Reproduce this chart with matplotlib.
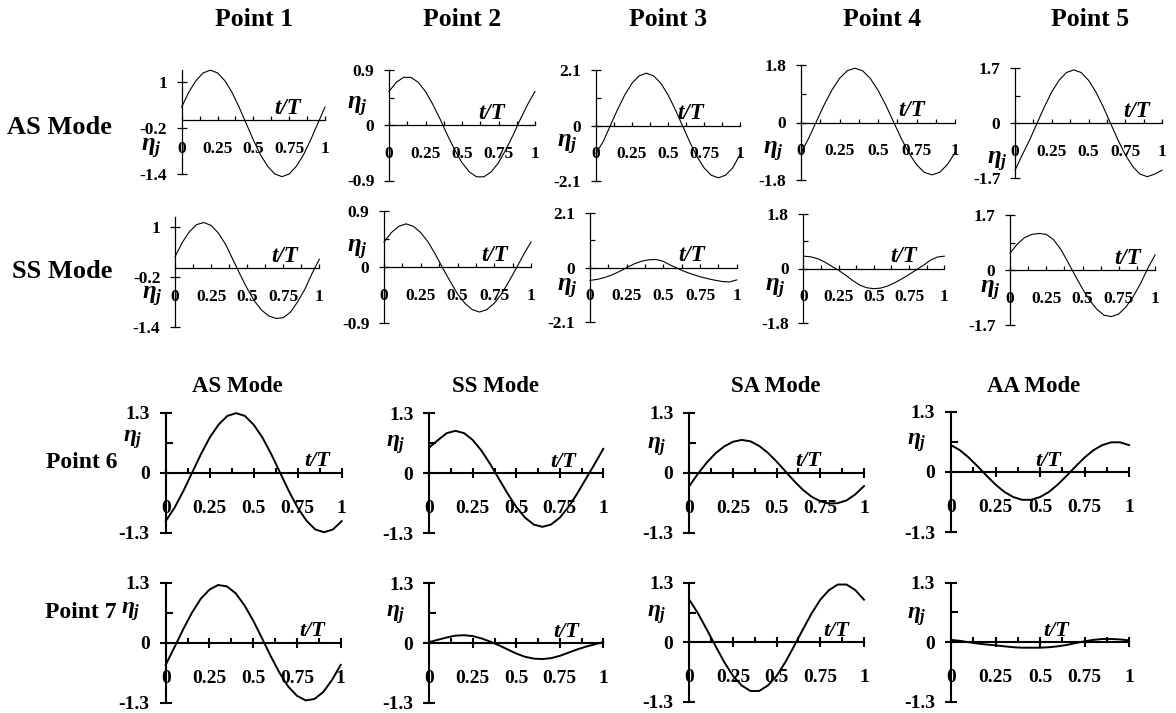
import matplotlib
matplotlib.use('Agg')
import matplotlib.pyplot as plt

plt.rcParams['font.family'] = ['Liberation Serif', 'DejaVu Serif']
plt.rcParams['font.weight'] = 'bold'
plt.rcParams['mathtext.fontset'] = 'custom'
plt.rcParams['mathtext.it'] = 'Liberation Serif:italic:bold'
plt.rcParams['mathtext.rm'] = 'Liberation Serif:bold'

W, H = 1176, 713

# time axis t/T
t_T = [0.0, 0.05, 0.1, 0.15, 0.2, 0.25, 0.3, 0.35, 0.4, 0.45, 0.5,
       0.55, 0.6, 0.65, 0.7, 0.75, 0.8, 0.85, 0.9, 0.95, 1.0]

# points 1-5, AS mode
p1_as = [0.34, 0.73, 1.03, 1.23, 1.30, 1.23, 1.03, 0.73, 0.34, -0.09, -0.52,
         -0.91, -1.21, -1.41, -1.48, -1.41, -1.21, -0.91, -0.52, -0.09, 0.34]
p2_as = [0.55, 0.70, 0.78, 0.78, 0.70, 0.55, 0.34, 0.10, -0.16, -0.40, -0.61,
         -0.76, -0.84, -0.84, -0.76, -0.61, -0.40, -0.16, 0.10, 0.34, 0.55]
p3_as = [-1.05, -0.61, 0.00, 0.61, 1.16, 1.60, 1.88, 1.98, 1.88, 1.60, 1.16,
         0.61, 0.00, -0.61, -1.16, -1.60, -1.88, -1.98, -1.88, -1.60, -1.10]
p4_as = [-0.95, -0.49, 0.03, 0.55, 1.01, 1.38, 1.62, 1.70, 1.62, 1.38, 1.01,
         0.55, 0.03, -0.49, -0.95, -1.32, -1.56, -1.64, -1.56, -1.32, -0.95]
p5_as = [-1.45, -0.97, -0.51, 0.00, 0.51, 0.97, 1.33, 1.57, 1.65, 1.57, 1.33,
         0.97, 0.51, 0.00, -0.51, -0.97, -1.33, -1.57, -1.65, -1.57, -1.45]

# points 1-5, SS mode
p1_ss = [0.28, 0.62, 0.88, 1.05, 1.10, 1.03, 0.85, 0.58, 0.22, -0.14, -0.48,
         -0.78, -1.00, -1.14, -1.20, -1.18, -1.05, -0.80, -0.50, -0.12, 0.22]
p2_ss = [0.40, 0.55, 0.65, 0.69, 0.65, 0.55, 0.40, 0.20, -0.02, -0.23, -0.43,
         -0.58, -0.68, -0.72, -0.68, -0.58, -0.43, -0.23, -0.02, 0.20, 0.40]
p3_ss = [-0.49, -0.45, -0.38, -0.28, -0.15, 0.00, 0.14, 0.24, 0.30, 0.31, 0.24,
         0.09, -0.04, -0.16, -0.26, -0.35, -0.42, -0.48, -0.53, -0.55, -0.47]
p4_ss = [0.41, 0.39, 0.33, 0.22, 0.08, -0.06, -0.22, -0.40, -0.55, -0.64, -0.67,
         -0.65, -0.58, -0.47, -0.34, -0.20, -0.05, 0.10, 0.27, 0.38, 0.41]
p5_ss = [0.52, 0.80, 1.00, 1.10, 1.13, 1.10, 0.94, 0.64, 0.24, -0.18, -0.58,
         -0.94, -1.22, -1.40, -1.44, -1.36, -1.14, -0.82, -0.42, 0.05, 0.46]

# points 6 and 7, four modes each
p6_as = [-1.05, -0.76, -0.40, 0.00, 0.40, 0.76, 1.04, 1.23, 1.29, 1.23, 1.04,
         0.76, 0.40, 0.00, -0.40, -0.76, -1.04, -1.23, -1.29, -1.23, -1.05]
p6_ss = [0.56, 0.72, 0.87, 0.92, 0.87, 0.72, 0.49, 0.20, -0.12, -0.44, -0.73,
         -0.96, -1.11, -1.16, -1.11, -0.96, -0.73, -0.44, -0.12, 0.20, 0.53]
p6_sa = [-0.29, -0.02, 0.22, 0.42, 0.57, 0.67, 0.71, 0.68, 0.58, 0.43, 0.24,
         0.03, -0.18, -0.37, -0.52, -0.62, -0.67, -0.66, -0.60, -0.47, -0.29]
p6_aa = [0.58, 0.47, 0.31, 0.12, -0.08, -0.27, -0.43, -0.54, -0.60, -0.60, -0.54,
         -0.43, -0.27, -0.08, 0.12, 0.31, 0.47, 0.58, 0.64, 0.64, 0.58]
p7_as = [-0.48, -0.10, 0.29, 0.65, 0.95, 1.15, 1.25, 1.22, 1.07, 0.81, 0.48,
         0.10, -0.29, -0.65, -0.95, -1.15, -1.25, -1.22, -1.07, -0.81, -0.48]
p7_ss = [0.02, 0.07, 0.12, 0.16, 0.17, 0.15, 0.10, 0.03, -0.05, -0.14, -0.23,
         -0.30, -0.34, -0.35, -0.33, -0.28, -0.21, -0.14, -0.08, -0.03, 0.02]
p7_sa = [0.93, 0.63, 0.28, -0.08, -0.43, -0.73, -0.94, -1.06, -1.06, -0.94, -0.73,
         -0.43, -0.08, 0.28, 0.63, 0.93, 1.14, 1.26, 1.26, 1.14, 0.93]
p7_aa = [0.05, 0.03, 0.00, -0.03, -0.05, -0.07, -0.09, -0.11, -0.12, -0.12, -0.12,
         -0.11, -0.09, -0.06, -0.02, 0.02, 0.05, 0.07, 0.07, 0.06, 0.04]

# axis ranges and tick labels
top_titles = ['Point 1', 'Point 2', 'Point 3', 'Point 4', 'Point 5']
top_rows = ['AS Mode', 'SS Mode']
bottom_titles = ['AS Mode', 'SS Mode', 'SA Mode', 'AA Mode']
bottom_rows = ['Point 6', 'Point 7']
x_major = [0, 0.25, 0.5, 0.75, 1]
x_major_labels = ['0', '0.25', '0.5', '0.75', '1']
x_minor = [0.125, 0.375, 0.625, 0.875]

y_ticks_top = [[1, -0.2, -1.4], [0.9, 0, -0.9], [2.1, 0, -2.1],
               [1.8, 0, -1.8], [1.7, 0, -1.7]]
y_labels_top = [['1', '-0.2', '-1.4'], ['0.9', '0', '-0.9'], ['2.1', '0', '-2.1'],
                ['1.8', '0', '-1.8'], ['1.7', '0', '-1.7']]
y_mid_top = [[], [0.45], [1.05], [0.9], [0.85]]
y_ticks_bottom = [1.3, 0, -1.3]
y_labels_bottom = ['1.3', '0', '-1.3']
y_mid_bottom = [0.65]

fig = plt.figure(figsize=(W / 100, H / 100), dpi=100)


def fig_xy(x, y):
    return x / W, 1 - y / H


def panel(box, ylim, yticks, ylabels, ymid, eta, tpos, eta_xy, big):
    # box = pixel x of t=0, pixel x of t=1, pixel y of ylim top, pixel y of ylim bottom
    x0, x1, ytop, ybot = box
    ax = fig.add_axes([x0 / W, 1 - ybot / H, (x1 - x0) / W, (ybot - ytop) / H])
    ax.patch.set_visible(False)
    lw_ax = 1.5 if big else 0.9
    ax.plot(t_T, eta, color='black', lw=1.4 if big else 0.8, clip_on=False,
            solid_joinstyle='round', zorder=3)
    ax.set_xlim(0, 1)
    ax.set_ylim(ylim[0], ylim[1])
    ax.spines['top'].set_visible(False)
    ax.spines['right'].set_visible(False)
    ax.spines['bottom'].set_position(('data', 0))
    ax.spines['bottom'].set_linewidth(lw_ax)
    ax.spines['left'].set_linewidth(lw_ax)

    ax.set_xticks(x_major)
    ax.set_xticklabels(x_major_labels)
    ax.set_xticks(x_minor, minor=True)
    ax.set_yticks(yticks)
    ax.set_yticklabels(ylabels)
    ax.set_yticks(ymid, minor=True)

    if big:
        ax.tick_params(axis='x', which='major', direction='inout', length=7,
                       width=lw_ax, pad=16, labelsize=14)
        ax.tick_params(axis='x', which='minor', direction='in', length=3.5, width=lw_ax)
        ax.tick_params(axis='y', which='major', direction='inout', length=9,
                       width=lw_ax, pad=7, labelsize=14)
        ax.tick_params(axis='y', which='minor', direction='in', length=5, width=lw_ax)
    else:
        ax.tick_params(axis='x', which='both', direction='in', length=3,
                       width=lw_ax, pad=15, labelsize=12.5)
        ax.tick_params(axis='y', which='major', direction='inout', length=7,
                       width=lw_ax, pad=7, labelsize=12.5)
        ax.tick_params(axis='y', which='minor', direction='in', length=3.6, width=lw_ax)
    for lab in ax.get_xticklabels() + ax.get_yticklabels():
        lab.set_fontweight('bold')

    ax.annotate('t/T', xy=(tpos, 0), xytext=(0, 1), textcoords='offset points',
                ha='center', va='bottom', fontsize=16.5 if not big else 16,
                style='italic', weight='bold')
    fig.text(*fig_xy(*eta_xy), r'$\eta_j$', ha='center', va='center',
             fontsize=18 if not big else 17)
    return ax


# pixel layout of the upper grid
top_boxes = [
    [(181.7, 325, 70.2, 173.6), (389, 535, 70, 180.5), (596, 740, 70, 181),
     (801, 955, 65, 180), (1015, 1162, 68.3, 178.3)],
    [(175, 319.3, 217.5, 326.8), (384, 531, 210.7, 323.3), (590, 736.7, 212.7, 322.5),
     (803.3, 944.3, 214.3, 322.7), (1010, 1155, 215, 325)],
]
top_ylims = [
    [(-1.4, 1.3), (-0.9, 0.9), (-2.1, 2.1), (-1.8, 1.8), (-1.7, 1.7)],
    [(-1.4, 1.22), (-0.9, 0.9), (-2.1, 2.1), (-1.8, 1.8), (-1.7, 1.7)],
]
top_tpos = [[0.74, 0.70, 0.66, 0.72, 0.83], [0.76, 0.755, 0.69, 0.71, 0.81]]
top_eta_xy = [[(151, 149), (357, 107), (567, 145), (773, 152), (997, 162)],
              [(152, 297), (357, 250), (567, 289), (775, 289), (990, 291)]]
top_curves = [[p1_as, p2_as, p3_as, p4_as, p5_as],
              [p1_ss, p2_ss, p3_ss, p4_ss, p5_ss]]

for r in range(2):
    for c in range(5):
        panel(top_boxes[r][c], top_ylims[r][c], y_ticks_top[c], y_labels_top[c],
              y_mid_top[c], top_curves[r][c], top_tpos[r][c], top_eta_xy[r][c], False)

# pixel layout of the lower grid
bottom_boxes = [
    [(165.7, 341.7, 412.7, 532.7), (429.3, 603.3, 413.3, 533.3),
     (689.3, 864, 412.7, 532.7), (951, 1129, 411.7, 532.3)],
    [(165.7, 340.7, 582.7, 702.7), (429.3, 603.3, 583.3, 702.7),
     (689.3, 864, 582.7, 702), (951, 1129, 582.7, 701.7)],
]
bottom_tpos = [[0.86, 0.77, 0.68, 0.545], [0.84, 0.79, 0.84, 0.59]]
bottom_eta_xy = [[(133, 440), (396, 445), (657, 447), (917, 443)],
                 [(131, 612), (396, 615), (657, 615), (917, 617)]]
bottom_curves = [[p6_as, p6_ss, p6_sa, p6_aa], [p7_as, p7_ss, p7_sa, p7_aa]]

for r in range(2):
    for c in range(4):
        panel(bottom_boxes[r][c], (-1.3, 1.3), y_ticks_bottom, y_labels_bottom,
              y_mid_bottom, bottom_curves[r][c], bottom_tpos[r][c],
              bottom_eta_xy[r][c], True)

# headings
for name, x in zip(top_titles, [254, 462, 668, 882, 1090]):
    fig.text(*fig_xy(x, 20), name, ha='center', va='center', fontsize=18.5, weight='bold')
for name, y in zip(top_rows, [127, 272]):
    fig.text(*fig_xy(112, y), name, ha='right', va='center', fontsize=19, weight='bold')
for name, x in zip(bottom_titles, [237, 496, 776, 1034]):
    fig.text(*fig_xy(x, 386), name, ha='center', va='center', fontsize=16.5, weight='bold')
for name, y in zip(bottom_rows, [463, 612]):
    fig.text(*fig_xy(117, y), name, ha='right', va='center', fontsize=17, weight='bold')

fig.savefig('out.png', dpi=100)
